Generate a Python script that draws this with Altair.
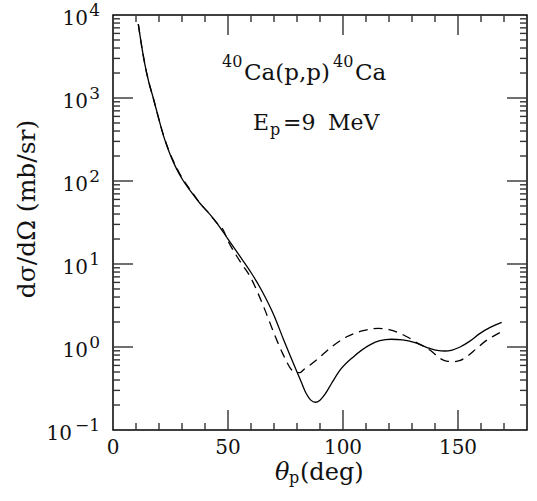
import altair as alt
import pandas as pd

# Differential cross section for 40Ca(p,p)40Ca at Ep = 9 MeV (mb/sr vs. deg)
theta_solid = [11, 12.5, 13.9, 15.5, 17.5, 19.5, 21.9, 24, 26.2, 28.5, 30.6, 34, 37.8, 41,
               45, 50, 55, 60, 65, 70, 74, 77, 80, 82, 84, 86, 88, 90, 92.2, 95, 98.7,
               104.5, 111.7, 116, 121, 126, 132, 137.8, 141, 144.3, 147.5, 150.9, 155,
               159.6, 164, 169]
sigma_solid = [7760, 4170, 2510, 1580, 1000, 617, 355, 240, 170, 126, 100, 74, 54, 43,
               31.6, 20, 12.6, 7.9, 4.6, 2.4, 1.26, 0.79, 0.50, 0.37, 0.275, 0.229, 0.216,
               0.229, 0.27, 0.363, 0.525, 0.76, 1.06, 1.19, 1.24, 1.22, 1.11, 0.96, 0.91,
               0.895, 0.92, 1.0, 1.17, 1.46, 1.72, 1.98]

theta_dashed = [11, 12.5, 13.9, 15.5, 17.5, 19.5, 21.9, 24, 26.2, 28.5, 30.6, 34, 37.8, 41,
                45, 48, 50, 53, 56, 59.6, 63, 66, 71.2, 74, 77.7, 79.5, 81.3, 83, 86, 89.3,
                94.3, 101.6, 108.8, 115.3, 120, 124.8, 128, 132, 137.8, 142.2, 145, 148,
                151, 153.8, 158, 162.5, 166, 169]
sigma_dashed = [7760, 4170, 2510, 1580, 1000, 617, 360, 245, 175, 130, 103, 76, 54, 43,
                31.6, 25.5, 19.0, 13.5, 10.0, 7.08, 4.47, 2.82, 1.21, 0.81, 0.528, 0.49,
                0.49, 0.537, 0.617, 0.731, 0.964, 1.33, 1.57, 1.68, 1.62, 1.46, 1.32, 1.13,
                0.92, 0.73, 0.676, 0.665, 0.69, 0.764, 0.955, 1.21, 1.38, 1.53]

# Axis ticks and labels
x_minor = [10, 20, 30, 40, 60, 70, 80, 90, 110, 120, 130, 140, 160, 170]
x_major = [50, 100, 150]
x_tick_labels = [0, 50, 100, 150]
y_major = [1, 10, 100, 1000]
y_minor_mult = [2, 3, 4, 5, 6, 7, 8, 9]
y_minor_decades = [0.1, 1, 10, 100, 1000]
y_label_vals = [10000, 1000, 100, 10, 1]
y_label_exps = ["4", "3", "2", "1", "0"]
y_low_val = [0.1]
y_low_exp = ["\u22121"]

W, H = 414, 415
FONT = "DejaVu Serif"
INK = "#111111"
MAJOR_LEN, MINOR_LEN = 20, 7

xs = alt.Scale(domain=[0, 180], nice=False, zero=False)
ys = alt.Scale(type="log", domain=[0.1, 10000], nice=False)

df_solid = pd.DataFrame({"theta": theta_solid, "sigma": sigma_solid})
df_dashed = pd.DataFrame({"theta": theta_dashed, "sigma": sigma_dashed})

X = lambda f: alt.X(f, type="quantitative", scale=xs, axis=None)
Y = lambda f: alt.Y(f, type="quantitative", scale=ys, axis=None)

solid = alt.Chart(df_solid).mark_line(
    color="black", strokeWidth=1.3, interpolate="monotone"
).encode(x=X("theta"), y=Y("sigma"))

dashed = alt.Chart(df_dashed).mark_line(
    color="black", strokeWidth=1.3, interpolate="monotone", strokeDash=[9, 6]
).encode(x=X("theta"), y=Y("sigma"))

tick_style = dict(color="#333333", strokeWidth=1.4)


def x_ticks(vals, length):
    df = pd.DataFrame({"t": vals})
    bottom = alt.Chart(df).mark_rule(**tick_style).encode(
        x=X("t"), y=alt.value(H), y2=alt.value(H - length))
    top = alt.Chart(df).mark_rule(**tick_style).encode(
        x=X("t"), y=alt.value(0), y2=alt.value(length))
    return [bottom, top]


def y_ticks(vals, length):
    df = pd.DataFrame({"v": vals})
    left = alt.Chart(df).mark_rule(**tick_style).encode(
        y=Y("v"), x=alt.value(0), x2=alt.value(length))
    right = alt.Chart(df).mark_rule(**tick_style).encode(
        y=Y("v"), x=alt.value(W), x2=alt.value(W - length))
    return [left, right]


y_minor = [m * d for d in y_minor_decades for m in y_minor_mult]
ticks = (x_ticks(x_minor, MINOR_LEN) + x_ticks(x_major, MAJOR_LEN)
         + y_ticks(y_minor, MINOR_LEN) + y_ticks(y_major, MAJOR_LEN))

# x tick labels
x_labels = alt.Chart(pd.DataFrame({"t": x_tick_labels})).mark_text(
    font=FONT, fontSize=20, color=INK, align="center", baseline="alphabetic"
).encode(x=X("t"), y=alt.value(439), text=alt.Text("t:Q"))


# y tick labels drawn as 10 with a raised exponent
def y_power_labels(vals, exps, base_dx):
    df = pd.DataFrame({"v": vals, "e": exps, "b": ["10"] * len(vals)})
    base = alt.Chart(df).mark_text(
        font=FONT, fontSize=20, color=INK, align="right", baseline="alphabetic",
        dx=base_dx, dy=10
    ).encode(x=alt.value(0), y=Y("v"), text="b:N")
    sup = alt.Chart(df).mark_text(
        font=FONT, fontSize=17, color=INK, align="right", baseline="alphabetic",
        dx=-13, dy=1
    ).encode(x=alt.value(0), y=Y("v"), text="e:N")
    return [base, sup]


y_labels = y_power_labels(y_label_vals, y_label_exps, -25) + \
    y_power_labels(y_low_val, y_low_exp, -41)


def label(txt, x, y, size, **kw):
    return alt.Chart(pd.DataFrame({"s": [txt]})).mark_text(
        font=FONT, fontSize=size, color=INK, align=kw.pop("align", "left"),
        baseline=kw.pop("baseline", "alphabetic"), **kw
    ).encode(x=alt.value(x), y=alt.value(y), text="s:N")


annotations = [
    label("40", 109, 52, 16),
    label("Ca(p,p)", 131, 65, 23),
    label("40", 220, 52, 16),
    label("Ca", 242, 65, 23),
    label("E", 140, 115, 22),
    label("p", 157, 120, 16),
    label("=9", 170, 115, 22),
    label("MeV", 215, 115, 22),
    # axis titles
    label("\u03b8", 162, 465, 24, fontStyle="italic"),
    label("p", 176, 468, 16),
    label("(deg)", 187, 465, 24),
    label("d\u03c3/d\u03a9 (mb/sr)", -86, 194, 25, angle=270,
          align="center", baseline="middle"),
]

chart = alt.layer(
    *ticks, dashed, solid, x_labels, *y_labels, *annotations
).properties(
    width=W, height=H, autosize="none",
    padding={"left": 113, "top": 15, "right": 10, "bottom": 71},
    background="white",
).configure_view(stroke="black", strokeWidth=1.5)

chart.save("out.html", embed_options={"renderer": "svg", "actions": False})
